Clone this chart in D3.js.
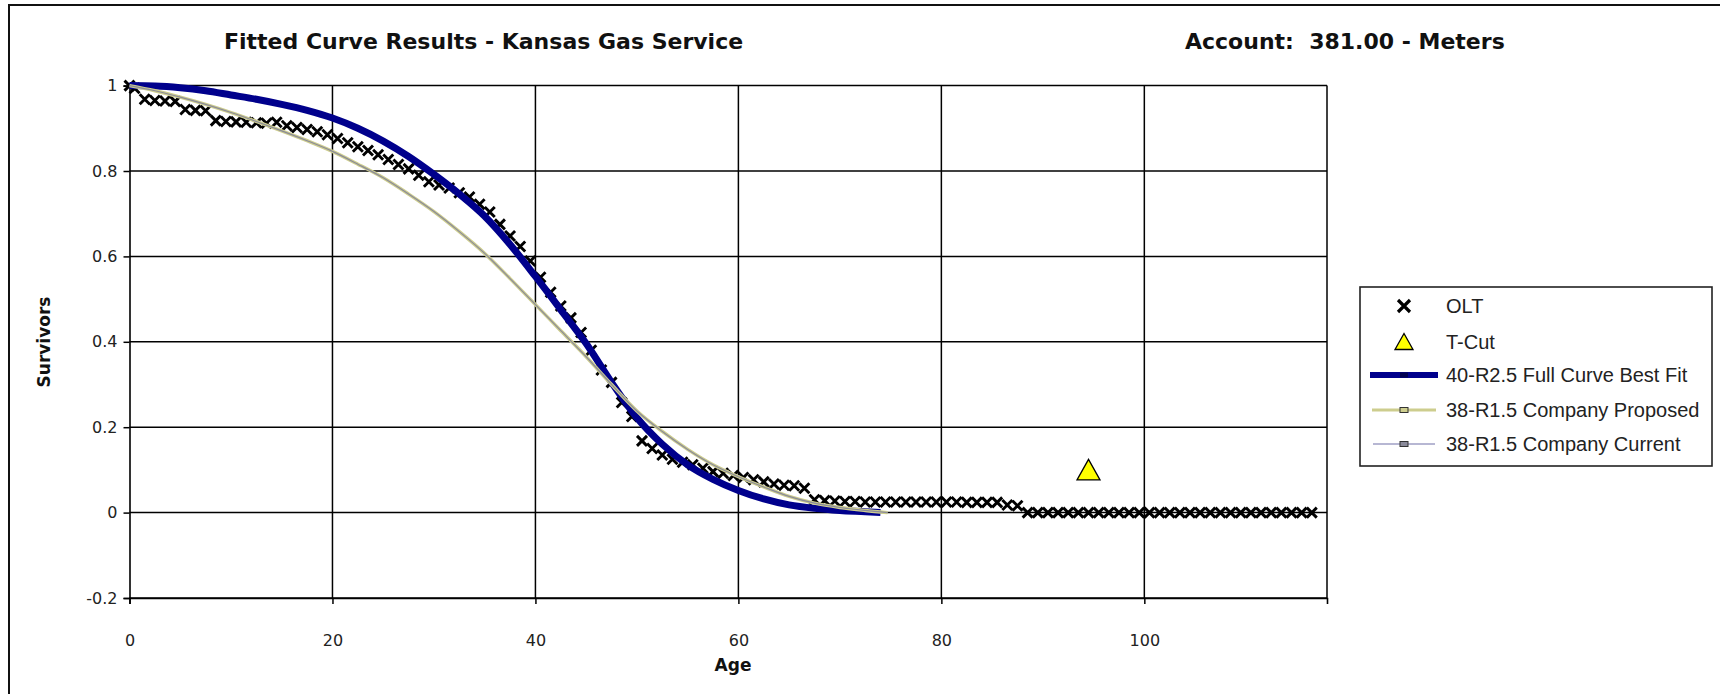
<!DOCTYPE html>
<html>
<head>
<meta charset="utf-8">
<script src="https://cdn.jsdelivr.net/npm/d3@7/dist/d3.min.js"></script>
<style>
  html, body { margin: 0; padding: 0; background: #fff; }
  svg { display: block; }
  text { white-space: pre; }
</style>
</head>
<body>
<svg id="chart" width="1720" height="694"></svg>
<script>
// Observed life table (OLT): age at start of interval and fraction surviving
const oltAges = [
  0, 0.5, 1.5, 2.5, 3.5, 4.5, 5.5, 6.5, 7.5, 8.5, 9.5,
  10.5, 11.5, 12.5, 13.5, 14.5, 15.5, 16.5, 17.5, 18.5, 19.5,
  20.5, 21.5, 22.5, 23.5, 24.5, 25.5, 26.5, 27.5, 28.5, 29.5,
  30.5, 31.5, 32.5, 33.5, 34.5, 35.5, 36.5, 37.5, 38.5, 39.5,
  40.5, 41.5, 42.5, 43.5, 44.5, 45.5, 46.5, 47.5, 48.5, 49.5,
  50.5, 51.5, 52.5, 53.5, 54.5, 55.5, 56.5, 57.5, 58.5, 59.5,
  60.5, 61.5, 62.5, 63.5, 64.5, 65.5, 66.5, 67.5, 68.5, 69.5,
  70.5, 71.5, 72.5, 73.5, 74.5, 75.5, 76.5, 77.5, 78.5, 79.5,
  80.5, 81.5, 82.5, 83.5, 84.5, 85.5, 86.5, 87.5, 88.5, 89.5,
  90.5, 91.5, 92.5, 93.5, 94.5, 95.5, 96.5, 97.5, 98.5, 99.5,
  100.5, 101.5, 102.5, 103.5, 104.5, 105.5, 106.5, 107.5, 108.5, 109.5,
  110.5, 111.5, 112.5, 113.5, 114.5, 115.5, 116.5
];
const oltSurvivors = [
  1.000, 0.994, 0.968, 0.965, 0.964, 0.963, 0.944, 0.942, 0.941, 0.918, 0.916,
  0.915, 0.914, 0.913, 0.912, 0.914, 0.906, 0.902, 0.897, 0.892, 0.885,
  0.876, 0.866, 0.857, 0.848, 0.838, 0.827, 0.815, 0.805, 0.790, 0.775,
  0.767, 0.760, 0.749, 0.739, 0.722, 0.704, 0.675, 0.648, 0.623, 0.589,
  0.551, 0.516, 0.484, 0.456, 0.422, 0.380, 0.334, 0.305, 0.258, 0.225,
  0.168, 0.150, 0.135, 0.125, 0.118, 0.112, 0.104, 0.096, 0.092, 0.087,
  0.082, 0.077, 0.072, 0.067, 0.064, 0.063, 0.057, 0.030, 0.028, 0.027,
  0.026, 0.026, 0.025, 0.025, 0.025, 0.025, 0.025, 0.025, 0.025, 0.025,
  0.025, 0.025, 0.024, 0.024, 0.024, 0.024, 0.018, 0.016, 0.000, 0.000,
  0.000, 0.000, 0.000, 0.000, 0.000, 0.000, 0.000, 0.000, 0.000, 0.000,
  0.000, 0.000, 0.000, 0.000, 0.000, 0.000, 0.000, 0.000, 0.000, 0.000,
  0.000, 0.000, 0.000, 0.000, 0.000, 0.000, 0.000
];

// Truncation point of the observed data
const tcutAge = [94.5];
const tcutSurvivors = [0.10];

// 40-R2.5 full curve best fit
const fitAges = [
  0, 2.5, 5, 7.5, 10, 12.5, 15, 17.5, 20, 22.5, 25, 27.5, 30, 32.5, 35,
  37.5, 40, 42.5, 45, 47.5, 50, 52.5, 55, 57.5, 60, 62.5, 65, 67.5, 70, 72.5, 74
];
const fitSurvivors = [
  1.000, 0.999, 0.995, 0.988, 0.978, 0.968, 0.956, 0.942, 0.924, 0.900, 0.870,
  0.834, 0.792, 0.746, 0.694, 0.628, 0.553, 0.475, 0.396, 0.305, 0.222, 0.160,
  0.112, 0.078, 0.052, 0.032, 0.018, 0.010, 0.005, 0.002, 0.000
];

// 38-R1.5 company proposed
const proposedAges = [
  0, 2.5, 5, 7.5, 10, 12.5, 15, 17.5, 20, 22.5, 25, 27.5, 30, 32.5, 35,
  37.5, 40, 42.5, 45, 47.5, 50, 52.5, 55, 57.5, 60, 62.5, 65, 67.5, 70, 72.5, 74.7
];
const proposedSurvivors = [
  1.000, 0.988, 0.973, 0.956, 0.937, 0.916, 0.894, 0.871, 0.846, 0.816, 0.784,
  0.746, 0.705, 0.658, 0.607, 0.548, 0.487, 0.426, 0.365, 0.300, 0.238, 0.190,
  0.148, 0.112, 0.084, 0.060, 0.038, 0.022, 0.012, 0.005, 0.000
];

// 38-R1.5 company current (same curve as proposed)
const currentAges = [
  0, 2.5, 5, 7.5, 10, 12.5, 15, 17.5, 20, 22.5, 25, 27.5, 30, 32.5, 35,
  37.5, 40, 42.5, 45, 47.5, 50, 52.5, 55, 57.5, 60, 62.5, 65, 67.5, 70, 72.5, 74.7
];
const currentSurvivors = [
  1.000, 0.988, 0.973, 0.956, 0.937, 0.916, 0.894, 0.871, 0.846, 0.816, 0.784,
  0.746, 0.705, 0.658, 0.607, 0.548, 0.487, 0.426, 0.365, 0.300, 0.238, 0.190,
  0.148, 0.112, 0.084, 0.060, 0.038, 0.022, 0.012, 0.005, 0.000
];

const xTicks = [0, 20, 40, 60, 80, 100];
const yTicks = [-0.2, 0, 0.2, 0.4, 0.6, 0.8, 1];
const yTickLabels = ["-0.2", "0", "0.2", "0.4", "0.6", "0.8", "1"];
const legendNames = ["OLT", "T-Cut", "40-R2.5 Full Curve Best Fit", "38-R1.5 Company Proposed", "38-R1.5 Company Current"];

const chartTitle = "Fitted Curve Results - Kansas Gas Service";
const accountTitle = "Account:  381.00 - Meters";
const xTitle = "Age";
const yTitle = "Survivors";

// ---- layout ----
const W = 1720, H = 694;
const plot = { left: 129.5, right: 1327, top: 85.6, bottom: 598 };
const xMax = 118;

const svg = d3.select("#chart");
svg.append("rect").attr("width", W).attr("height", H).attr("fill", "#fff");

// outer frame (only top and left edges fall inside the view)
svg.append("rect")
  .attr("x", 9).attr("y", 5).attr("width", W + 20).attr("height", H + 20)
  .attr("fill", "none").attr("stroke", "#111").attr("stroke-width", 2);

const x = d3.scaleLinear().domain([0, xMax]).range([plot.left, plot.right]);
const y = d3.scaleLinear().domain([-0.2, 1]).range([plot.bottom, plot.top]);

const labelFont = "'DejaVu Sans', Verdana, sans-serif";
const boldFont = "'DejaVu Sans', Tahoma, sans-serif";

// gridlines
const grid = svg.append("g").attr("stroke", "#000").attr("stroke-width", 1.5);
grid.selectAll("line.v").data(xTicks.filter(d => d > 0)).join("line")
  .attr("x1", d => x(d)).attr("x2", d => x(d))
  .attr("y1", plot.top).attr("y2", plot.bottom);
grid.selectAll("line.h").data(yTicks).join("line")
  .attr("x1", plot.left).attr("x2", plot.right)
  .attr("y1", d => y(d)).attr("y2", d => y(d));
grid.append("line")
  .attr("x1", x(xMax)).attr("x2", x(xMax))
  .attr("y1", plot.top).attr("y2", plot.bottom);

// axes
const xAxis = svg.append("g")
  .attr("transform", `translate(0,${y(-0.2)})`)
  .call(d3.axisBottom(x).tickValues(xTicks).tickSize(6).tickPadding(31).tickFormat(d => String(d)));
const yAxis = svg.append("g")
  .attr("transform", `translate(${x(0)},0)`)
  .call(d3.axisLeft(y).tickValues(yTicks).tickSize(6).tickPadding(6)
    .tickFormat((d, i) => yTickLabels[i]));
[xAxis, yAxis].forEach(g => {
  g.select(".domain").attr("stroke", "#000").attr("stroke-width", 1.6);
  g.selectAll(".tick line").attr("stroke", "#000").attr("stroke-width", 1.5);
  g.selectAll(".tick text")
    .attr("fill", "#222")
    .style("font-family", labelFont)
    .style("font-size", "16px");
});

// OLT markers
const olt = oltAges.map((a, i) => [a, oltSurvivors[i]]);
const xMark = "M-5,-5L5,5M-5,5L5,-5";
svg.append("g").selectAll("path").data(olt).join("path")
  .attr("d", xMark)
  .attr("transform", d => `translate(${x(d[0])},${y(d[1])})`)
  .attr("fill", "none").attr("stroke", "#000").attr("stroke-width", 2.9);

// fitted curves
const line = d3.line().x(d => x(d[0])).y(d => y(d[1])).curve(d3.curveMonotoneX);
const fit = fitAges.map((a, i) => [a, fitSurvivors[i]]);
const proposed = proposedAges.map((a, i) => [a, proposedSurvivors[i]]);
const current = currentAges.map((a, i) => [a, currentSurvivors[i]]);

svg.append("path").datum(fit).attr("d", line)
  .attr("fill", "none").attr("stroke", "#00008c").attr("stroke-width", 7)
  .attr("stroke-linejoin", "round");
svg.append("path").datum(proposed).attr("d", line)
  .attr("fill", "none").attr("stroke", "#cdcd8e").attr("stroke-width", 3.4);
svg.append("path").datum(current).attr("d", line)
  .attr("fill", "none").attr("stroke", "#8a8a9a").attr("stroke-width", 1.2);

// T-Cut marker
const tri = "M0,-10.5L11.5,10L-11.5,10Z";
svg.append("g").selectAll("path").data(tcutAge.map((a, i) => [a, tcutSurvivors[i]])).join("path")
  .attr("d", tri)
  .attr("transform", d => `translate(${x(d[0])},${y(d[1])})`)
  .attr("fill", "#ffff00").attr("stroke", "#000").attr("stroke-width", 1.3);

// titles
svg.append("text").text(chartTitle)
  .attr("x", 224).attr("y", 49)
  .style("font-family", boldFont).style("font-weight", "bold").style("font-size", "22px")
  .attr("fill", "#111");
svg.append("text").text(accountTitle)
  .attr("x", 1185).attr("y", 49)
  .style("font-family", boldFont).style("font-weight", "bold").style("font-size", "22px")
  .attr("fill", "#111");
svg.append("text").text(xTitle)
  .attr("x", 733).attr("y", 665).attr("dy", "0.35em").attr("text-anchor", "middle")
  .style("font-family", boldFont).style("font-weight", "bold").style("font-size", "17px")
  .attr("fill", "#111");
svg.append("text").text(yTitle)
  .attr("transform", "translate(44,342) rotate(-90)")
  .attr("dy", "0.35em").attr("text-anchor", "middle")
  .style("font-family", boldFont).style("font-weight", "bold").style("font-size", "17px")
  .attr("fill", "#111");

// legend
const lg = svg.append("g");
lg.append("rect").attr("x", 1360).attr("y", 287).attr("width", 352).attr("height", 179)
  .attr("fill", "#fff").attr("stroke", "#222").attr("stroke-width", 1.6);
const rowY = [306, 342, 375, 410, 444];
const symX = 1404;
lg.append("path").attr("d", "M-6,-6L6,6M-6,6L6,-6")
  .attr("transform", `translate(${symX},${rowY[0]})`)
  .attr("stroke", "#000").attr("stroke-width", 3.2).attr("fill", "none");
lg.append("path").attr("d", "M0,-8.5L9,7.5L-9,7.5Z")
  .attr("transform", `translate(${symX},${rowY[1]})`)
  .attr("fill", "#ffff00").attr("stroke", "#000").attr("stroke-width", 1.3);
lg.append("line").attr("x1", 1370).attr("x2", 1438).attr("y1", rowY[2]).attr("y2", rowY[2])
  .attr("stroke", "#00008c").attr("stroke-width", 6);
lg.append("rect").attr("x", symX - 4).attr("y", rowY[2] - 2.5).attr("width", 8).attr("height", 5)
  .attr("fill", "#000050");
lg.append("line").attr("x1", 1372).attr("x2", 1436).attr("y1", rowY[3]).attr("y2", rowY[3])
  .attr("stroke", "#cdcd8e").attr("stroke-width", 3);
lg.append("rect").attr("x", symX - 4).attr("y", rowY[3] - 2.5).attr("width", 8).attr("height", 5)
  .attr("fill", "#cdcd8e").attr("stroke", "#333").attr("stroke-width", 1);
lg.append("line").attr("x1", 1373).attr("x2", 1435).attr("y1", rowY[4]).attr("y2", rowY[4])
  .attr("stroke", "#7070a8").attr("stroke-width", 1.2);
lg.append("rect").attr("x", symX - 4).attr("y", rowY[4] - 2.5).attr("width", 8).attr("height", 5)
  .attr("fill", "#8a8a9a").attr("stroke", "#333").attr("stroke-width", 1);
lg.selectAll("text.name").data(legendNames).join("text")
  .attr("x", 1446).attr("y", (d, i) => rowY[i]).attr("dy", "0.35em")
  .text(d => d)
  .style("font-family", "'Liberation Sans', Arial, sans-serif").style("font-size", "20px")
  .attr("fill", "#222");
</script>
</body>
</html>
